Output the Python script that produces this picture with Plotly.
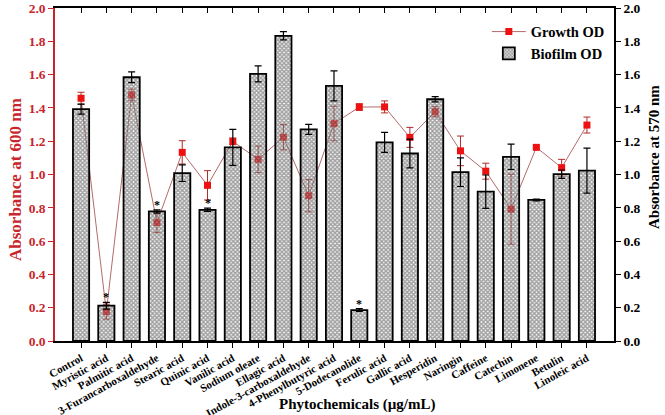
import plotly.graph_objects as go

categories = ["Control", "Myristic acid", "Palmitic acid", "3-Furancarboxaldehyde", "Stearic acid",
              "Quinic acid", "Vanilic acid", "Sodium oleate", "Ellagic acid", "Indole-3-carboxaldehyde",
              "4-Phenylbutyric acid", "5-Dodecanolide", "Ferulic acid", "Gallic acid", "Hesperidin",
              "Naringin", "Caffeine", "Catechin", "Limonene", "Betulin", "Linoleic acid"]

growth_od = [1.458, 0.176, 1.478, 0.711, 1.133, 0.935, 1.199, 1.091, 1.224, 0.873, 1.306,
             1.405, 1.406, 1.223, 1.377, 1.142, 1.020, 0.792, 1.163, 1.041, 1.297]
growth_err = [0.036, 0.045, 0.035, 0.06, 0.07, 0.088, 0.02, 0.08, 0.076, 0.097, 0.104,
              0.02, 0.036, 0.06, 0.03, 0.089, 0.048, 0.21, 0.008, 0.05, 0.048]

biofilm_od = [1.393, 0.212, 1.584, 0.778, 1.008, 0.788, 1.163, 1.604, 1.833, 1.271, 1.532,
              0.186, 1.193, 1.126, 1.452, 1.014, 0.897, 1.106, 0.847, 1.002, 1.023]
biofilm_err = [0.03, 0.02, 0.032, 0.01, 0.05, 0.01, 0.108, 0.048, 0.025, 0.03, 0.09,
               0.008, 0.06, 0.086, 0.016, 0.086, 0.10, 0.076, 0.005, 0.025, 0.135]

significant = ["Myristic acid", "3-Furancarboxaldehyde", "Quinic acid", "5-Dodecanolide"]

RED = "#c8262c"
SERIF = "Liberation Serif"

W, H = 665, 415
# plot area in page pixels: x 55..614, y 8..341
L, T, R, B = 55, 8, 51, 74
pw, ph = W - L - R, H - T - B

fig = go.Figure()

fig.add_trace(go.Scatter(
    x=categories, y=growth_od, name="Growth OD", mode="lines+markers",
    line=dict(color="#b56a6a", width=1),
    marker=dict(symbol="square", size=7, color="#ee1111"),
    error_y=dict(type="data", array=growth_err, color="#b02a2a", thickness=1, width=3.5),
    xaxis="x", yaxis="y",
))

fig.add_trace(go.Bar(
    x=categories, y=biofilm_od, name="Biofilm OD", width=0.64,
    marker=dict(color="rgba(235,235,235,0.35)",
                line=dict(color="black", width=1.8),
                pattern=dict(shape="x", size=3, solidity=0.7,
                             fgcolor="rgba(25,25,25,0.8)", fillmode="overlay")),
    error_y=dict(type="data", array=biofilm_err, color="black", thickness=1.2, width=3.5),
    xaxis="x", yaxis="y2",
))

# dummy trace to keep the top axis drawn
fig.add_trace(go.Scatter(x=categories, y=[None] * len(categories), xaxis="x2", yaxis="y",
                         showlegend=False, hoverinfo="skip", mode="lines"))

annotations = []
for c, v, e in zip(categories, biofilm_od, biofilm_err):
    if c in significant:
        annotations.append(dict(x=c, y=v + e, xref="x", yref="y2", text="*", showarrow=False,
                                yshift=5, font=dict(family=SERIF, size=12, color="black", weight="bold")))

# titles placed by page pixel position (centre)
page_titles = [
    dict(text="Absorbance at 600 nm", x=15, y=180, textangle=-90,
         font=dict(family=SERIF, size=17, color=RED, weight="bold")),
    dict(text="Absorbance at 570 nm", x=654, y=157, textangle=-90,
         font=dict(family=SERIF, size=15, color="black", weight="bold")),
    dict(text="Phytochemicals (\u00b5g/mL)", x=357, y=404, textangle=0,
         font=dict(family=SERIF, size=15, color="black", weight="bold")),
]
for a in page_titles:
    a.update(x=(a["x"] - L) / pw, y=(H - B - a["y"]) / ph, xref="paper", yref="paper",
             xanchor="center", yanchor="middle", showarrow=False)
    annotations.append(a)

x_range = [-1.03, 21.07]

fig.update_layout(
    width=W, height=H,
    margin=dict(l=L, r=R, t=T, b=B, pad=0, autoexpand=False),
    paper_bgcolor="white", plot_bgcolor="white",
    font=dict(family=SERIF, size=12, color="black"),
    showlegend=True,
    legend=dict(x=0.7725, y=0.977, xanchor="left", yanchor="top",
                bgcolor="rgba(0,0,0,0)", traceorder="normal",
                font=dict(family=SERIF, size=14.5, color="black", weight="bold"),
                itemwidth=34, tracegroupgap=0),
    xaxis=dict(type="category", range=x_range, showline=True, linecolor="black", linewidth=1.5,
               ticks="outside", ticklen=5, tickcolor="black", tickwidth=1.2, automargin=False,
               tickangle=-29, tickfont=dict(family=SERIF, size=11, color="black", weight="bold"),
               showgrid=False, zeroline=False),
    xaxis2=dict(type="category", range=x_range, overlaying="x", side="top", anchor="y",
                showline=True, linecolor="black", linewidth=1.5, automargin=False,
                ticks="inside", ticklen=5, tickcolor="black", tickwidth=1.2,
                showticklabels=False, showgrid=False, zeroline=False),
    yaxis=dict(range=[0, 2.0], dtick=0.2, tickformat=".1f", showline=True, linecolor=RED, linewidth=1.5,
               ticks="outside", ticklen=5, tickcolor=RED, tickwidth=1.2, automargin=False,
               tickfont=dict(family=SERIF, size=13.5, color=RED, weight="bold"),
               showgrid=False, zeroline=False),
    yaxis2=dict(range=[0, 2.0], dtick=0.2, tickformat=".1f", overlaying="y", side="right",
                showline=True, linecolor="black", linewidth=1.5, automargin=False,
                ticks="outside", ticklen=5, tickcolor="black", tickwidth=1.2,
                tickfont=dict(family=SERIF, size=13.5, color="black", weight="bold"),
                showgrid=False, zeroline=False),
    annotations=annotations,
)

# remove the browser's default 8px body margin so the figure fills the window exactly
fig.write_html("out.html", config={"displayModeBar": False},
               post_script="document.body.style.margin='0';")
